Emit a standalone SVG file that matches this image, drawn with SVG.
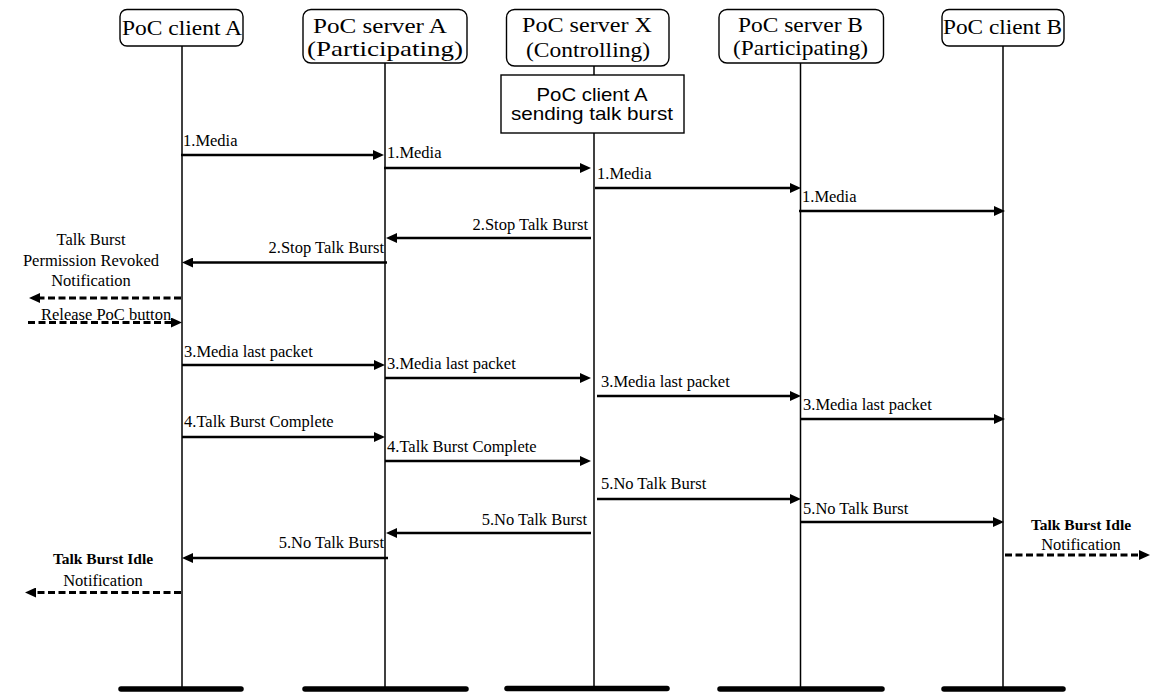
<svg xmlns="http://www.w3.org/2000/svg" width="1150" height="693" viewBox="0 0 1150 693">
<style>
.box{fill:#fff;stroke:#000;stroke-width:1.4}
.hdr{font-family:"Liberation Serif","Times New Roman",serif;font-size:22px;fill:#000;text-anchor:middle}
.sans{font-family:"Liberation Sans",Arial,sans-serif;font-size:18.5px;fill:#000;text-anchor:middle}
.life{stroke:#000;stroke-width:1.5;fill:none}
.bar{stroke:#000;stroke-width:5.5;stroke-linecap:round}
.msg{stroke:#000;stroke-width:2.5;fill:none;marker-end:url(#ah)}
.dash{stroke:#000;stroke-width:3;fill:none;stroke-dasharray:7 3.5;marker-end:url(#ah)}
.lbl{font-family:"Liberation Serif","Times New Roman",serif;font-size:16.5px;fill:#000}
.r{text-anchor:end}
.c{text-anchor:middle}
.b{font-weight:bold;font-size:15.5px}
</style>
<defs>
<marker id="ah" viewBox="0 0 11 10" refX="3" refY="5" markerWidth="11" markerHeight="10" markerUnits="userSpaceOnUse" orient="auto">
<path d="M0,0 L11,5 L0,10 z" fill="#000"/>
</marker>
</defs>
<rect width="1150" height="693" fill="#fff"/>

<g id="clientA">
<rect class="box" x="120" y="9.5" width="123" height="36.5" rx="7"/>
<text class="hdr" x="182" y="35" textLength="120" lengthAdjust="spacingAndGlyphs">PoC client A</text>
<line class="life" x1="182" y1="46" x2="182" y2="689"/>
<line class="bar" x1="121" y1="689" x2="241" y2="689"/>
</g>

<g id="serverA">
<rect class="box" x="303" y="9.5" width="164" height="53.5" rx="8"/>
<text class="hdr" x="380" y="33" textLength="134" lengthAdjust="spacingAndGlyphs">PoC server A</text>
<text class="hdr" x="385" y="56" textLength="156" lengthAdjust="spacingAndGlyphs">(Participating)</text>
<line class="life" x1="385" y1="63" x2="385" y2="689"/>
<line class="bar" x1="305" y1="689" x2="466" y2="689"/>
</g>

<g id="serverX">
<rect class="box" x="506.5" y="9.5" width="162.5" height="56.5" rx="8"/>
<text class="hdr" x="587" y="32" textLength="130" lengthAdjust="spacingAndGlyphs">PoC server X</text>
<text class="hdr" x="588" y="57" textLength="124" lengthAdjust="spacingAndGlyphs">(Controlling)</text>
<line class="life" x1="594" y1="66" x2="594" y2="75"/>
<line class="life" x1="594" y1="133" x2="594" y2="688"/>
<line class="bar" x1="507" y1="688.5" x2="667" y2="688.5"/>
</g>

<g id="stateX">
<rect class="box" x="501" y="75" width="183" height="58"/>
<text class="sans" x="592" y="100.5" textLength="111" lengthAdjust="spacingAndGlyphs">PoC client A</text>
<text class="sans" x="592" y="119.5" textLength="162" lengthAdjust="spacingAndGlyphs">sending talk burst</text>
</g>

<g id="serverB">
<rect class="box" x="719" y="9.5" width="164.5" height="53.5" rx="8"/>
<text class="hdr" x="800.5" y="32" textLength="125" lengthAdjust="spacingAndGlyphs">PoC server B</text>
<text class="hdr" x="800.5" y="55" textLength="135" lengthAdjust="spacingAndGlyphs">(Participating)</text>
<line class="life" x1="800.5" y1="63" x2="800.5" y2="689"/>
<line class="bar" x1="720" y1="689" x2="882" y2="689"/>
</g>

<g id="clientB">
<rect class="box" x="942" y="9.5" width="122" height="36.5" rx="7"/>
<text class="hdr" x="1002.5" y="34" textLength="119" lengthAdjust="spacingAndGlyphs">PoC client B</text>
<line class="life" x1="1003" y1="46" x2="1003" y2="689"/>
<line class="bar" x1="944" y1="689" x2="1063" y2="689"/>
</g>

<g id="connectors">
<line class="msg" x1="181" y1="155" x2="376" y2="155"/>
<line class="msg" x1="384" y1="168" x2="583" y2="168"/>
<line class="msg" x1="595" y1="188" x2="793" y2="188"/>
<line class="msg" x1="799" y1="211" x2="997" y2="211"/>
<line class="msg" x1="591" y1="238" x2="394" y2="238"/>
<line class="msg" x1="387" y1="262.5" x2="190" y2="262.5"/>
<line class="dash" x1="181" y1="298" x2="37" y2="298"/>
<line class="dash" x1="28" y1="322.5" x2="174" y2="322.5"/>
<line class="msg" x1="182" y1="365" x2="377" y2="365"/>
<line class="msg" x1="385" y1="378" x2="583" y2="378"/>
<line class="msg" x1="597" y1="396" x2="793" y2="396"/>
<line class="msg" x1="801" y1="419" x2="997" y2="419"/>
<line class="msg" x1="182" y1="437" x2="377" y2="437"/>
<line class="msg" x1="385" y1="461" x2="583" y2="461"/>
<line class="msg" x1="597" y1="499" x2="793" y2="499"/>
<line class="msg" x1="801" y1="522" x2="996" y2="522"/>
<line class="msg" x1="591" y1="533" x2="394" y2="533"/>
<line class="msg" x1="388" y1="558" x2="190" y2="558"/>
<line class="dash" x1="181" y1="592.5" x2="33" y2="592.5"/>
<line class="dash" x1="1005" y1="555" x2="1142" y2="555"/>
</g>

<g id="labels">
<text class="lbl" x="183" y="146">1.Media</text>
<text class="lbl" x="387" y="158">1.Media</text>
<text class="lbl" x="597" y="179">1.Media</text>
<text class="lbl" x="802" y="202">1.Media</text>
<text class="lbl r" x="588" y="230">2.Stop Talk Burst</text>
<text class="lbl r" x="384" y="253">2.Stop Talk Burst</text>
<text class="lbl c" x="91" y="245">Talk Burst</text>
<text class="lbl c" x="91" y="265.5">Permission Revoked</text>
<text class="lbl c" x="91" y="286">Notification</text>
<text class="lbl" x="41" y="320">Release PoC button</text>
<text class="lbl" x="184" y="357">3.Media last packet</text>
<text class="lbl" x="387" y="369">3.Media last packet</text>
<text class="lbl" x="601" y="387">3.Media last packet</text>
<text class="lbl" x="803" y="410">3.Media last packet</text>
<text class="lbl" x="184" y="427">4.Talk Burst Complete</text>
<text class="lbl" x="387" y="452">4.Talk Burst Complete</text>
<text class="lbl" x="601" y="489">5.No Talk Burst</text>
<text class="lbl" x="803" y="514">5.No Talk Burst</text>
<text class="lbl r" x="587" y="525">5.No Talk Burst</text>
<text class="lbl r" x="384" y="548">5.No Talk Burst</text>
<text class="lbl c b" x="103" y="564">Talk Burst Idle</text>
<text class="lbl c" x="103" y="585.5">Notification</text>
<text class="lbl c b" x="1081" y="530">Talk Burst Idle</text>
<text class="lbl c" x="1081" y="550">Notification</text>
</g>
</svg>
